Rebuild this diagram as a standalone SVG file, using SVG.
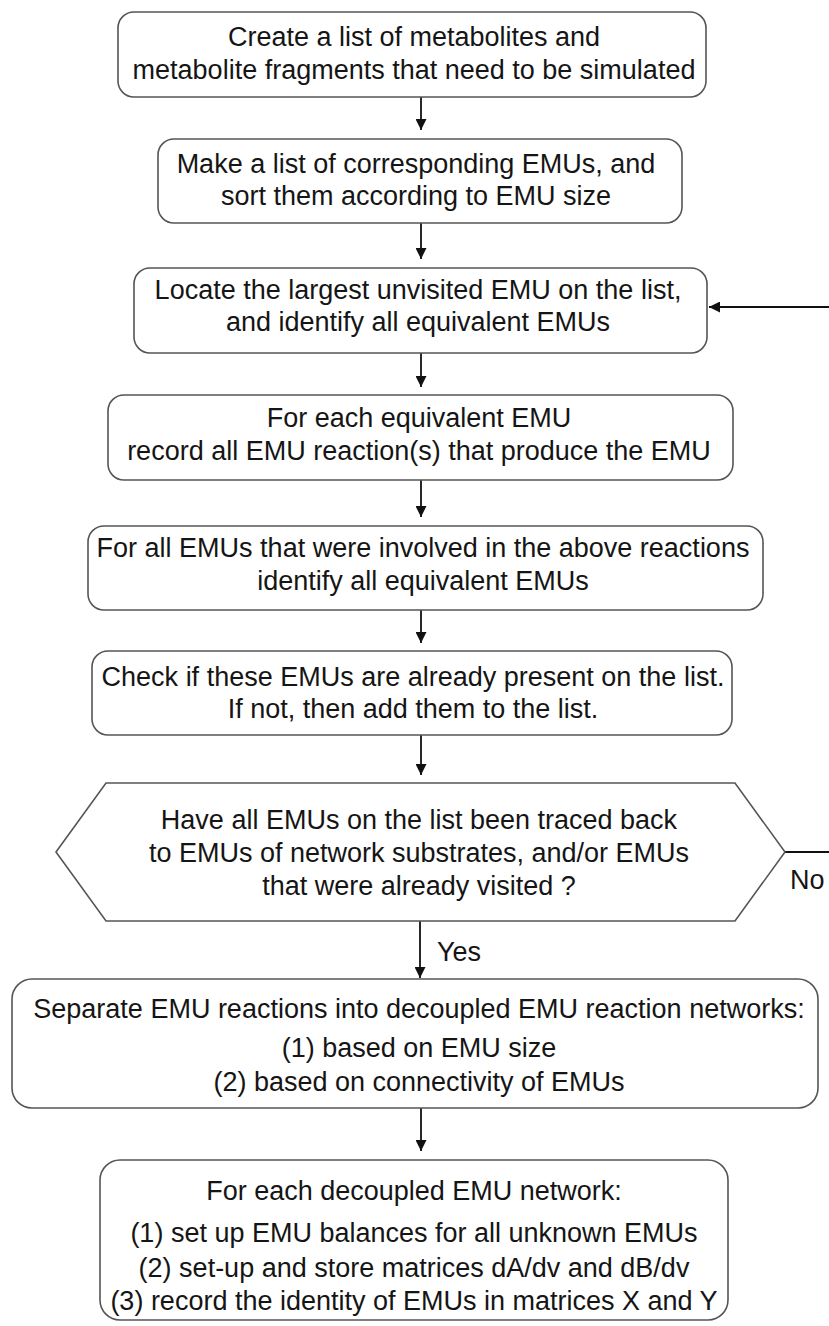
<svg xmlns="http://www.w3.org/2000/svg" width="829" height="1326" viewBox="0 0 829 1326">
  <style>
    .box { fill: #ffffff; stroke: #555555; stroke-width: 1.6; }
    .lbl { font-family: "Liberation Sans", Arial, sans-serif; font-size: 27px; fill: #151515; text-anchor: middle; }
    .side { font-family: "Liberation Sans", Arial, sans-serif; font-size: 27px; fill: #151515; }
    .edge { fill: none; stroke: #111111; stroke-width: 1.8; }
  </style>
  <defs>
    <marker id="arrow" viewBox="0 0 10 10" refX="10" refY="5" markerWidth="11" markerHeight="11" markerUnits="userSpaceOnUse" orient="auto">
      <path d="M0,0 L10,5 L0,10 z" fill="#111111"/>
    </marker>
  </defs>
  <rect width="829" height="1326" fill="#ffffff"/>

  <g id="connectors">
    <line class="edge" x1="421" y1="97" x2="421" y2="130" marker-end="url(#arrow)"/>
    <line class="edge" x1="421" y1="223" x2="421" y2="259" marker-end="url(#arrow)"/>
    <line class="edge" x1="421" y1="353" x2="421" y2="387" marker-end="url(#arrow)"/>
    <line class="edge" x1="421" y1="480" x2="421" y2="517" marker-end="url(#arrow)"/>
    <line class="edge" x1="421" y1="610" x2="421" y2="643" marker-end="url(#arrow)"/>
    <line class="edge" x1="421" y1="735" x2="421" y2="775" marker-end="url(#arrow)"/>
    <line class="edge" x1="420" y1="921" x2="420" y2="978" marker-end="url(#arrow)"/>
    <line class="edge" x1="421" y1="1108" x2="421" y2="1151" marker-end="url(#arrow)"/>
    <!-- "No" branch loops back to the EMU selection step -->
    <path class="edge" d="M785,852 H850 V307 H709" marker-end="url(#arrow)"/>
    <text class="side" x="790" y="889">No</text>
    <text class="side" x="437" y="961">Yes</text>
  </g>

  <g id="n1">
    <rect class="box" x="118" y="12" width="588" height="85" rx="16"/>
    <text class="lbl" x="414" y="46">Create a list of metabolites and</text>
    <text class="lbl" x="414" y="79">metabolite fragments that need to be simulated</text>
  </g>
  <g id="n2">
    <rect class="box" x="158" y="139" width="524" height="84" rx="16"/>
    <text class="lbl" x="416" y="173">Make a list of corresponding EMUs, and</text>
    <text class="lbl" x="416" y="205">sort them according to EMU size</text>
  </g>
  <g id="n3">
    <rect class="box" x="134" y="268" width="573" height="85" rx="16"/>
    <text class="lbl" x="418" y="299">Locate the largest unvisited EMU on the list,</text>
    <text class="lbl" x="418" y="331">and identify all equivalent EMUs</text>
  </g>
  <g id="n4">
    <rect class="box" x="108" y="395" width="625" height="85" rx="16"/>
    <text class="lbl" x="419" y="427">For each equivalent EMU</text>
    <text class="lbl" x="419" y="460">record all EMU reaction(s) that produce the EMU</text>
  </g>
  <g id="n5">
    <rect class="box" x="88" y="526" width="675" height="84" rx="16"/>
    <text class="lbl" x="423" y="557">For all EMUs that were involved in the above reactions</text>
    <text class="lbl" x="423" y="590">identify all equivalent EMUs</text>
  </g>
  <g id="n6">
    <rect class="box" x="92" y="651" width="640" height="84" rx="16"/>
    <text class="lbl" x="413" y="686">Check if these EMUs are already present on the list.</text>
    <text class="lbl" x="413" y="718">If not, then add them to the list.</text>
  </g>
  <g id="n7">
    <polygon class="box" points="56,852 106,783 735,783 785,852 735,921 106,921"/>
    <text class="lbl" x="419" y="829">Have all EMUs on the list been traced back</text>
    <text class="lbl" x="419" y="862">to EMUs of network substrates, and/or EMUs</text>
    <text class="lbl" x="419" y="895">that were already visited ?</text>
  </g>
  <g id="n8">
    <rect class="box" x="12" y="979" width="806" height="129" rx="20"/>
    <text class="lbl" x="419" y="1018">Separate EMU reactions into decoupled EMU reaction networks:</text>
    <text class="lbl" x="419" y="1057">(1) based on EMU size</text>
    <text class="lbl" x="419" y="1091">(2) based on connectivity of EMUs</text>
  </g>
  <g id="n9">
    <rect class="box" x="100" y="1160" width="628" height="160" rx="20"/>
    <text class="lbl" x="414" y="1200">For each decoupled EMU network:</text>
    <text class="lbl" x="414" y="1242">(1) set up EMU balances for all unknown EMUs</text>
    <text class="lbl" x="414" y="1277">(2) set-up and store matrices dA/dv and dB/dv</text>
    <text class="lbl" x="414" y="1310">(3) record the identity of EMUs in matrices X and Y</text>
  </g>
</svg>
